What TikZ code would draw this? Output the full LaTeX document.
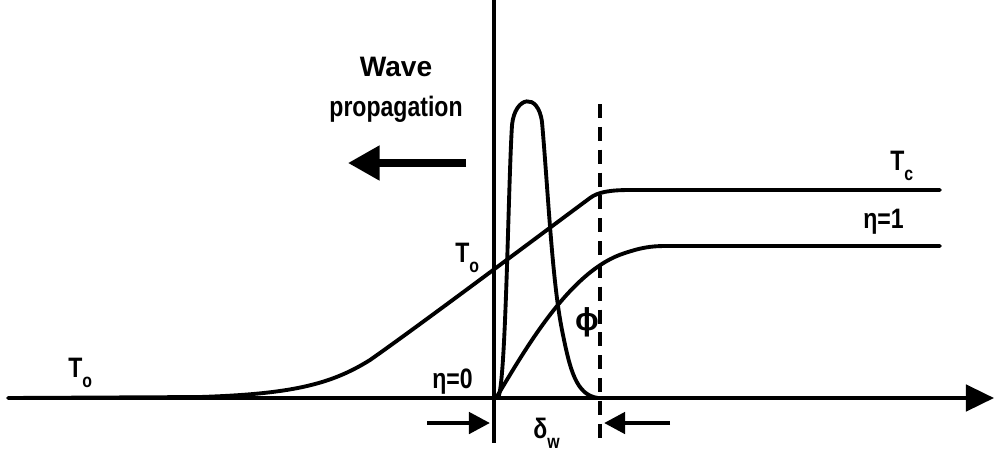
\documentclass[tikz,border=0pt]{standalone}
\usepackage{fontspec}
\setmainfont{Liberation Sans}
\usetikzlibrary{arrows.meta,positioning}
\newcommand{\narrow}[1]{\scalebox{0.82}[1]{#1}}
\newcommand{\lowsub}[1]{\raisebox{-6pt}{\fontsize{11}{12}\selectfont #1}}

\begin{document}
\begin{tikzpicture}[
  x=0.02cm, y=-0.02cm,
  curve/.style={line width=2.2pt, black, line cap=round},
  axis/.style={line width=2.2pt, black, -{Triangle[length=16pt, width=15pt]}},
  wall/.style={line width=1.9pt, black},
  endline/.style={line width=1.9pt, black, dash pattern=on 8pt off 5pt},
  push/.style={line width=2.6pt, black, -{Triangle[length=12pt, width=12pt]}},
  lbl/.style={font=\bfseries\fontsize{16}{18}\selectfont, inner sep=0pt},
]
\useasboundingbox (0,0) rectangle (996,454);

%% ---- Axes ----
\coordinate (xstart) at (8,398);
\coordinate (xend)   at (994,398);
\coordinate (front)  at (494,0);
\coordinate (frontb) at (494,443);
\coordinate (end)    at (600,104);
\coordinate (endb)   at (600,442);
\draw[axis] (xstart) -- (xend);
\draw[wall] (front) -- (frontb);
\draw[endline] (end) -- (endb);

%% ---- Temperature profile ----
\coordinate (tstart) at (8,398);
\coordinate (tend)   at (940,190);
\draw[curve] (tstart) -- (200,397)
  .. controls (290,394) and (330,385) .. (370,360)
  .. controls (420,325) and (540,235) .. (590,198)
  .. controls (598,192) and (610,190) .. (630,190) -- (tend);

%% ---- Conversion profile ----
\coordinate (estart) at (496,398);
\coordinate (eend)   at (940,246);
\draw[curve] (estart)
  .. controls (525,350) and (570,270) .. (625,253)
  .. controls (640,248) and (650,246) .. (665,246) -- (eend);

%% ---- Heat release pulse ----
\coordinate (pstart) at (498,398);
\coordinate (pend)   at (598,398);
\draw[curve] (pstart)
  .. controls (506,385) and (508,190) .. (512,125)
  .. controls (515,96) and (538,92) .. (542,122)
  .. controls (548,190) and (552,280) .. (562,330)
  .. controls (570,370) and (576,395) .. (pend);

%% ---- Wave propagation ----
\node[lbl, align=center, font=\bfseries\fontsize{16}{22.5}\selectfont] (wave) at (396,90)
  {Wave\\\narrow{propagation}};
\coordinate (wavea) at (466,163);
\coordinate (waveb) at (348,163);
\draw[line width=4pt, -{Triangle[length=18pt, width=19pt]}] (wavea) -- (waveb);

%% ---- Labels ----
\node[lbl, anchor=base west] (tzero) at (68,377)  {\narrow{T\lowsub{o}}};
\node[lbl, anchor=base west] (tmid)  at (455,262) {\narrow{T\lowsub{o}}};
\node[lbl, anchor=base west] (tc)    at (890,170) {\narrow{T\lowsub{c}}};
\node[lbl, anchor=base west] (etaone)  at (863,228) {\narrow{η=1}};
\node[lbl, anchor=base west] (etazero) at (432,388) {\narrow{η=0}};
\node[lbl, font=\bfseries\fontsize{18}{20}\selectfont] (phi) at (587,322) {ϕ};
\node[lbl, anchor=base west] (delta) at (533,438) {\narrow{δ\lowsub{w}}};

%% ---- Width arrows ----
\coordinate (la) at (427,423);
\coordinate (lb) at (490,423);
\coordinate (ra) at (670,423);
\coordinate (rb) at (604,423);
\draw[push] (la) -- (lb);
\draw[push] (ra) -- (rb);

\end{tikzpicture}
\end{document}
